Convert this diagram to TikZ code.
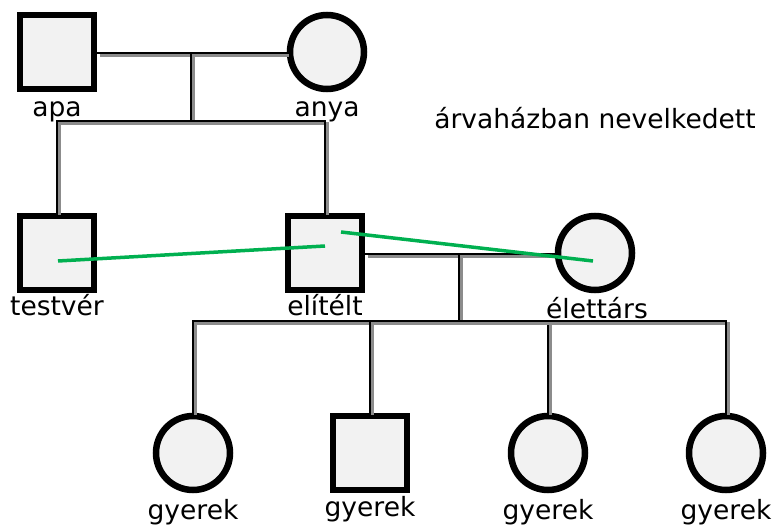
\documentclass[tikz,border=0pt]{standalone}
\usepackage{fontspec}
\setmainfont{DejaVu Sans}
\definecolor{fillgray}{HTML}{F2F2F2}
\definecolor{shadowgray}{HTML}{8C8C8C}
\definecolor{relgreen}{HTML}{00B050}
\tikzset{
  male/.style={draw=black, fill=fillgray, line width=6.5pt, minimum size=74pt, inner sep=0pt, outer sep=3.25pt, shape=rectangle},
  female/.style={draw=black, fill=fillgray, line width=6.5pt, minimum size=74pt, inner sep=0pt, outer sep=3.25pt, shape=circle},
  lbl/.style={anchor=base, inner sep=0pt, font=\fontsize{26.5}{30}\selectfont},
  conn/.style={draw=black, line width=2pt,
    preaction={draw=shadowgray, line width=3pt, transform canvas={shift={(2.5pt,-2.5pt)}}}},
  rel/.style={draw=relgreen, line width=3.5pt}
}
\begin{document}
\begin{tikzpicture}[x=1pt,y=-1pt]
\useasboundingbox (0,0) rectangle (776,529);
\coordinate (m1) at (191,53);
\coordinate (s1) at (191,121);
\coordinate (m2) at (459,254);
\coordinate (s2) at (459,321);
% people
\node[male] (apa) at (57,52) {};
\node[female] (anya) at (327,52) {};
\node[male] (testver) at (57,253) {};
\node[male] (elitelt) at (325,253) {};
\node[female] (elettars) at (595,253) {};
\node[female] (gy1) at (193,453) {};
\node[male] (gy2) at (370,453) {};
\node[female] (gy3) at (548,453) {};
\node[female] (gy4) at (726,453) {};
% labels
\node[lbl] (lapa) at (57,117) {apa};
\node[lbl] (lanya) at (327,117) {anya};
\node[lbl] (lnote) at (595,129) {árvaházban nevelkedett};
\node[lbl] (ltestver) at (57,316) {testvér};
\node[lbl] (lelitelt) at (325,316) {elítélt};
\node[lbl] (lelettars) at (597,318) {élettárs};
\node[lbl] (lgy1) at (193,519) {gyerek};
\node[lbl] (lgy2) at (370,516) {gyerek};
\node[lbl] (lgy3) at (548,519) {gyerek};
\node[lbl] (lgy4) at (726,519) {gyerek};
% family lines
\draw[conn] (apa.east |- m1) -- (anya.west |- m1);
\draw[conn] (m1) -- (s1);
\draw[conn] (s1) -| (testver.north);
\draw[conn] (s1) -| (elitelt.north);
\draw[conn] (elitelt.east |- m2) -- (elettars.west |- m2);
\draw[conn] (m2) -- (s2);
\draw[conn] (s2) -| (gy1.north);
\draw[conn] (s2) -| (gy2.north);
\draw[conn] (s2) -| (gy3.north);
\draw[conn] (s2) -| (gy4.north);
% relationship lines
\coordinate (g1) at (58,261);
\coordinate (g2) at (325,246);
\coordinate (g3) at (341,232);
\coordinate (g4) at (593,261);
\draw[rel] (g1) -- (g2);
\draw[rel] (g3) -- (g4);
\end{tikzpicture}
\end{document}
